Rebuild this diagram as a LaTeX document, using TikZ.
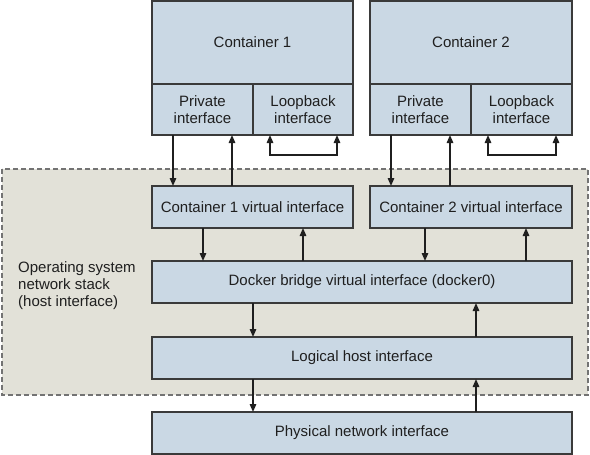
\documentclass[tikz,border=0pt]{standalone}
\usepackage{fontspec}
\setmainfont{Liberation Sans}
\usepackage{xcolor}
\usepackage{tikz}
\usetikzlibrary{arrows.meta, positioning, calc, backgrounds}
\definecolor{boxblue}{RGB}{202,216,228}
\definecolor{hostgray}{RGB}{226,225,216}
\definecolor{edgegray}{RGB}{58,58,58}
\tikzstyle{iface} = [rectangle, draw=edgegray, line width=1.2pt, fill=boxblue, text centered, align=center, inner sep=0pt, outer sep=0pt, text=black!88, font=\fontsize{15}{17}\selectfont]
\tikzstyle{arrow} = [line width=1.4pt, -{Triangle[length=8pt,width=6.5pt]}, color=black!88]
\tikzstyle{looparrow} = [line width=1.4pt, {Triangle[length=8pt,width=6.5pt]}-{Triangle[length=8pt,width=6.5pt]}, color=black!88]
\tikzstyle{hostbox} = [draw=black!55, fill=hostgray, line width=1.1pt, dash pattern=on 5pt off 3pt]

\begin{document}
\begin{tikzpicture}
    \useasboundingbox (0,0) rectangle (590pt,-455pt);

    % Contenedores
    \node (c1) [iface, minimum width=201pt, minimum height=83pt, anchor=north west] at (152pt,-1pt) {Container 1};
    \node (c1priv) [iface, minimum width=101pt, minimum height=51pt, below right=0pt and 0pt of c1.south west] {Private\\interface};
    \node (c1loop) [iface, minimum width=100pt, minimum height=51pt, right=0pt of c1priv] {Loopback\\interface};

    \node (c2) [iface, minimum width=202pt, minimum height=83pt, right=17pt of c1] {Container 2};
    \node (c2priv) [iface, minimum width=101pt, minimum height=51pt, below right=0pt and 0pt of c2.south west] {Private\\interface};
    \node (c2loop) [iface, minimum width=101pt, minimum height=51pt, right=0pt of c2priv] {Loopback\\interface};

    % Host
    \node (c1v) [iface, minimum width=201pt, minimum height=42pt, below right=51pt and 0pt of c1priv.south west] {Container 1 virtual interface};
    \node (c2v) [iface, minimum width=202pt, minimum height=42pt, below right=51pt and 0pt of c2priv.south west] {Container 2 virtual interface};
    \node (bridge) [iface, minimum width=420pt, minimum height=42pt, below right=33pt and 0pt of c1v.south west] {Docker bridge virtual interface (docker0)};
    \node (logic) [iface, minimum width=420pt, minimum height=42pt, below=34pt of bridge] {Logical host interface};
    \node (phys) [iface, minimum width=420pt, minimum height=42pt, below=33pt of logic] {Physical network interface};

    \begin{scope}[on background layer]
        \draw [hostbox] (2pt,-169pt) rectangle (588pt,-395pt);
    \end{scope}
    \node (oslabel) [align=left, anchor=west, inner sep=0pt, text=black!88, font=\fontsize{15}{17}\selectfont] at (18pt,-286pt) {Operating system\\network stack\\(host interface)};

    % Flechas
    \draw [arrow] ([xshift=21pt]c1priv.south west) -- ([xshift=21pt]c1priv.south west |- c1v.north);
    \draw [arrow] ([xshift=80pt]c1priv.south west |- c1v.north) -- ([xshift=80pt]c1priv.south west);
    \draw [looparrow] ([xshift=17pt]c1loop.south west) -- ++(0,-20pt) -| ([xshift=84pt]c1loop.south west);

    \draw [arrow] ([xshift=21pt]c2priv.south west) -- ([xshift=21pt]c2priv.south west |- c2v.north);
    \draw [arrow] ([xshift=80pt]c2priv.south west |- c2v.north) -- ([xshift=80pt]c2priv.south west);
    \draw [looparrow] ([xshift=17pt]c2loop.south west) -- ++(0,-20pt) -| ([xshift=85pt]c2loop.south west);

    \draw [arrow] ([xshift=51pt]c1v.south west) -- ([xshift=51pt]c1v.south west |- bridge.north);
    \draw [arrow] ([xshift=151pt]c1v.south west |- bridge.north) -- ([xshift=151pt]c1v.south west);
    \draw [arrow] ([xshift=55pt]c2v.south west) -- ([xshift=55pt]c2v.south west |- bridge.north);
    \draw [arrow] ([xshift=156pt]c2v.south west |- bridge.north) -- ([xshift=156pt]c2v.south west);

    \draw [arrow] ([xshift=101pt]bridge.south west) -- ([xshift=101pt]bridge.south west |- logic.north);
    \draw [arrow] ([xshift=324pt]bridge.south west |- logic.north) -- ([xshift=324pt]bridge.south west);
    \draw [arrow] ([xshift=101pt]logic.south west) -- ([xshift=101pt]logic.south west |- phys.north);
    \draw [arrow] ([xshift=324pt]logic.south west |- phys.north) -- ([xshift=324pt]logic.south west);
\end{tikzpicture}
\end{document}
